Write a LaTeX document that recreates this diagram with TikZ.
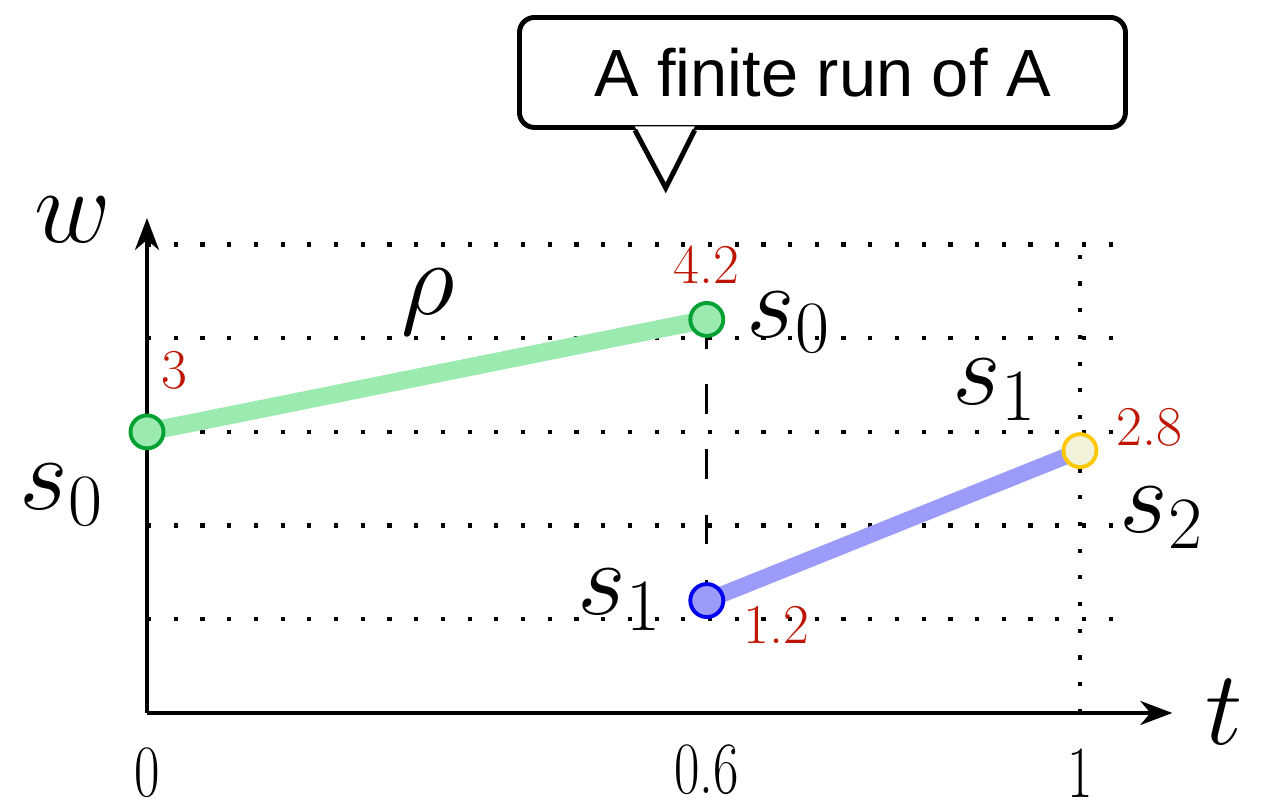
\RequirePackage{fix-cm}
\documentclass[tikz,border=0pt]{standalone}
\usepackage{fontspec}
\newfontfamily\notefont{Liberation Sans}
\usetikzlibrary{arrows.meta,calc}
\definecolor{runfill}{RGB}{155,234,175}
\definecolor{runedge}{RGB}{0,160,50}
\definecolor{jumpfill}{RGB}{155,155,250}
\definecolor{jumpedge}{RGB}{0,0,240}
\definecolor{endfill}{RGB}{242,242,218}
\definecolor{endedge}{RGB}{255,200,0}
\definecolor{weight}{RGB}{190,20,0}
\tikzstyle{axis} = [line width=1.1pt, ->]
\tikzstyle{gridline} = [line width=1.2pt, dash pattern=on 1.2pt off 6.4pt]
\tikzstyle{jump} = [line width=0.9pt, dash pattern=on 8.5pt off 10pt]
\tikzstyle{greenrun} = [line width=5.1pt, runfill]
\tikzstyle{bluerun} = [line width=4.6pt, jumpfill]
\tikzstyle{dot} = [circle, inner sep=0pt, minimum size=0.33cm, line width=1.1pt]
\tikzstyle{greendot} = [dot, draw=runedge, fill=runfill]
\tikzstyle{bluedot} = [dot, draw=jumpedge, fill=jumpfill]
\tikzstyle{yellowdot} = [dot, draw=endedge, fill=endfill]
\tikzstyle{mathlbl} = [inner sep=0pt, font=\fontsize{30}{32}\selectfont]
\tikzstyle{wlbl} = [inner sep=0pt, text=weight, font=\fontsize{16}{18}\selectfont]
\tikzstyle{ticklbl} = [inner sep=0pt, font=\fontsize{21}{23}\selectfont]
\tikzstyle{notebox} = [rectangle, rounded corners=0.15cm, draw, line width=1.4pt, fill=white, minimum width=6.06cm, minimum height=1.1cm, font=\notefont\fontsize{19}{21}\selectfont]

\begin{document}
\begin{tikzpicture}[x=9.33cm, y=0.937cm, >={Stealth[length=0.32cm, width=0.24cm, inset=0.1cm]}]
    \useasboundingbox (-1.47cm,-0.89cm) rectangle (11.19cm,7.13cm);
    % grid
    \foreach \w in {1,...,5}
        \draw [gridline] (0,\w) -- (1.048,\w);
    \draw [gridline] (1,0) -- (1,5);
    % axes
    \coordinate (o) at (0,0);
    \coordinate (tend) at (1.099,0);
    \coordinate (wend) at (0,5.283);
    \draw [axis] (o) -- (tend);
    \draw [axis] (o) -- (wend);
    % the run
    \coordinate (a0) at (0,3);
    \coordinate (a1) at (0.6,4.2);
    \coordinate (b0) at (0.6,1.2);
    \coordinate (b1) at (1,2.8);
    \draw [greenrun] (a0) -- (a1);
    \draw [bluerun] (b0) -- (b1);
    \draw [jump] (a1) -- (b0);
    \node (a0dot) [greendot] at (a0) {};
    \node (a1dot) [greendot] at (a1) {};
    \node (b0dot) [bluedot] at (b0) {};
    \node (b1dot) [yellowdot] at (b1) {};
    % labels
    \node (wlabel) [mathlbl] at (-0.080,5.26) {$w$};
    \node (tlabel) [mathlbl] at (1.155,0.01) {$t$};
    \node (rho) [mathlbl] at (0.301,4.39) {$\rho$};
    \node (sa0) [mathlbl] at (-0.091,2.33) {$s_0$};
    \node (sa1) [mathlbl] at (0.688,4.17) {$s_0$};
    \node (sb0) [mathlbl] at (0.507,1.206) {$s_1$};
    \node (sb1) [mathlbl] at (0.909,3.447) {$s_1$};
    \node (sc) [mathlbl] at (1.088,2.08) {$s_2$};
    \node (w0) [wlbl] at (0.029,3.66) {3};
    \node (w1) [wlbl] at (0.6,4.78) {4.2};
    \node (w2) [wlbl] at (0.675,0.94) {1.2};
    \node (w3) [wlbl] at (1.074,3.05) {2.8};
    \node (tick0) [ticklbl] at (0,-0.64) {\scalebox{0.75}[1]{0}};
    \node (tick1) [ticklbl] at (0.6,-0.61) {\scalebox{0.75}[1]{0.6}};
    \node (tick2) [ticklbl] at (1,-0.64) {\scalebox{0.75}[1]{1}};
    % callout
    \node (note) [notebox] at (0.724,6.836) {A finite run of A};
    \coordinate (pl) at (0.523,6.22);
    \coordinate (pr) at (0.587,6.22);
    \coordinate (tip) at (0.556,5.603);
    \fill [white] ($(pl)+(0,0.04)$) -- (tip) -- ($(pr)+(0,0.04)$) -- cycle;
    \draw [line width=1.4pt] (pl) -- (tip) -- (pr);
\end{tikzpicture}
\end{document}
